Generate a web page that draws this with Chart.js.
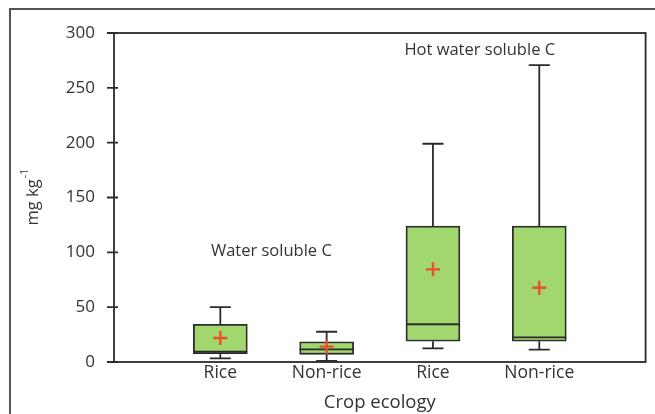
<!DOCTYPE html>
<html>
<head>
<meta charset="utf-8">
<script src="https://cdn.jsdelivr.net/npm/chart.js@4/dist/chart.umd.min.js"></script>
<style>
  body { margin: 0; background: #fff; }
  #wrap { width: 655px; height: 414px; position: relative; }
</style>
</head>
<body>
<div id="wrap"><canvas id="chart"></canvas></div>
<script>
// --- DATA ---
// empty slots at both ends keep the boxes at positions 1..4 of a 0..5 axis
const categories = ['', 'Rice', 'Non-rice', 'Rice', 'Non-rice', ''];
const whiskerLow  = [null, 3.3, 1, 12.5, 11.2, null];
const quart1      = [null, 7.6, 7, 18.9, 18.9, null];
const median      = [null, 9.4, 11.5, 34.4, 22.5, null];
const quart3      = [null, 34.4, 18.5, 124, 124, null];
const whiskerHigh = [null, 50, 27.6, 199, 270.7, null];
const means       = [null, 21.9, 14, 84.5, 67.7, null];

const yTicks = [0, 50, 100, 150, 200, 250, 300];

// group labels inside the plot: text, x position (category index), y value
const noteText = ['Water soluble C', 'Hot water soluble C'];
const noteX = [1.48, 3.44];
const noteY = [101, 284];

const FONT = '"Open Sans", sans-serif';
const INK = '#333';

// --- BOX PLOT EXTRAS (whiskers, medians, frame, notes) ---
const boxExtras = {
  id: 'boxExtras',
  beforeDraw(chart) {
    const ctx = chart.ctx;
    // outer frame of the picture (top + left edges only)
    ctx.save();
    ctx.strokeStyle = '#555';
    ctx.lineWidth = 2;
    ctx.beginPath();
    ctx.moveTo(10, 414);
    ctx.lineTo(10, 9);
    ctx.lineTo(655, 9);
    ctx.stroke();
    ctx.restore();
  },
  beforeDatasetsDraw(chart) {
    const ctx = chart.ctx, x = chart.scales.x, y = chart.scales.y;
    ctx.save();
    ctx.strokeStyle = '#2b2b2b';
    ctx.lineWidth = 1.8;
    for (let i = 0; i < categories.length; i++) {
      if (whiskerLow[i] == null) continue;
      const px = x.getPixelForValue(i);
      const cap = 10.5;
      ctx.beginPath();
      ctx.moveTo(px, y.getPixelForValue(quart3[i]));
      ctx.lineTo(px, y.getPixelForValue(whiskerHigh[i]));
      ctx.moveTo(px - cap, y.getPixelForValue(whiskerHigh[i]));
      ctx.lineTo(px + cap, y.getPixelForValue(whiskerHigh[i]));
      ctx.moveTo(px, y.getPixelForValue(quart1[i]));
      ctx.lineTo(px, y.getPixelForValue(whiskerLow[i]));
      ctx.moveTo(px - cap, y.getPixelForValue(whiskerLow[i]));
      ctx.lineTo(px + cap, y.getPixelForValue(whiskerLow[i]));
      ctx.stroke();
    }
    ctx.restore();
  },
  afterDatasetDraw(chart, args) {
    if (args.index !== 0) return;
    // medians on top of the boxes, below the mean markers
    const ctx = chart.ctx, y = chart.scales.y;
    const meta = chart.getDatasetMeta(0);
    ctx.save();
    ctx.strokeStyle = '#2b2b2b';
    ctx.lineWidth = 1.8;
    for (let i = 0; i < categories.length; i++) {
      if (median[i] == null) continue;
      const bar = meta.data[i];
      const half = bar.width / 2;
      const py = y.getPixelForValue(median[i]);
      ctx.beginPath();
      ctx.moveTo(bar.x - half, py);
      ctx.lineTo(bar.x + half, py);
      ctx.stroke();
    }
    ctx.restore();
  },
  afterDraw(chart) {
    const ctx = chart.ctx, y = chart.scales.y;
    const a = chart.chartArea;
    ctx.save();
    // plot frame
    ctx.strokeStyle = '#2b2b2b';
    ctx.lineWidth = 1.8;
    ctx.strokeRect(a.left, a.top, a.right - a.left, a.bottom - a.top);
    // y tick marks cross the axis a little
    ctx.beginPath();
    yTicks.forEach(v => {
      const py = y.getPixelForValue(v);
      ctx.moveTo(a.left - 7, py);
      ctx.lineTo(a.left + 4, py);
    });
    ctx.stroke();
    // group notes
    ctx.fillStyle = INK;
    ctx.font = '16.5px ' + FONT;
    ctx.textAlign = 'center';
    ctx.textBaseline = 'middle';
    noteText.forEach((t, i) => {
      const cx = a.left + (a.right - a.left) * noteX[i] / 5;
      ctx.fillText(t, cx, y.getPixelForValue(noteY[i]));
    });
    // y title with superscript, rotated
    ctx.translate(33, (a.top + a.bottom) / 2);
    ctx.rotate(-Math.PI / 2);
    ctx.font = '16.5px ' + FONT;
    const main = 'mg kg', sup = '-1';
    const wMain = ctx.measureText(main).width;
    ctx.font = '11px ' + FONT;
    const wSup = ctx.measureText(sup).width;
    const x0 = -(wMain + wSup) / 2;
    ctx.textAlign = 'left';
    ctx.font = '16.5px ' + FONT;
    ctx.fillText(main, x0, 0);
    ctx.font = '11px ' + FONT;
    ctx.fillText(sup, x0 + wMain + 1, -8);
    ctx.restore();
  }
};

new Chart(document.getElementById('chart'), {
  type: 'bar',
  data: {
    labels: categories,
    datasets: [
      {
        label: 'Box',
        data: quart1.map((q, i) => q == null ? null : [q, quart3[i]]),
        backgroundColor: '#a2d66e',
        borderColor: '#2b2b2b',
        borderWidth: 1.8,
        borderSkipped: false,
        barThickness: 54,
        order: 2
      },
      {
        type: 'line',
        label: 'Mean',
        data: means,
        showLine: false,
        pointStyle: 'cross',
        pointRadius: 7,
        pointBorderWidth: 2.4,
        pointBorderColor: '#e8502a',
        pointBackgroundColor: '#e8502a',
        order: 1
      }
    ]
  },
  options: {
    responsive: true,
    maintainAspectRatio: false,
    animation: false,
    layout: { padding: { top: 33, right: 9, bottom: 0, left: 0 } },
    plugins: { legend: { display: false }, tooltip: { enabled: false } },
    scales: {
      x: {
        offset: false,
        grid: { display: false, drawTicks: false },
        border: { display: false },
        ticks: { color: INK, font: { family: FONT, size: 17.5 }, padding: 1, maxRotation: 0, autoSkip: false },
        title: { display: true, text: 'Crop ecology', color: INK, font: { family: FONT, size: 18.5 }, padding: { top: 0, bottom: 0 } },
        afterFit(scale) { scale.height = 52; }
      },
      y: {
        min: 0,
        max: 300,
        grid: { display: false, drawTicks: false },
        border: { display: false },
        ticks: { stepSize: 50, color: INK, font: { family: FONT, size: 17 }, padding: 19 },
        afterFit(scale) { scale.width = 114; }
      }
    }
  },
  plugins: [boxExtras]
});
</script>
</body>
</html>
